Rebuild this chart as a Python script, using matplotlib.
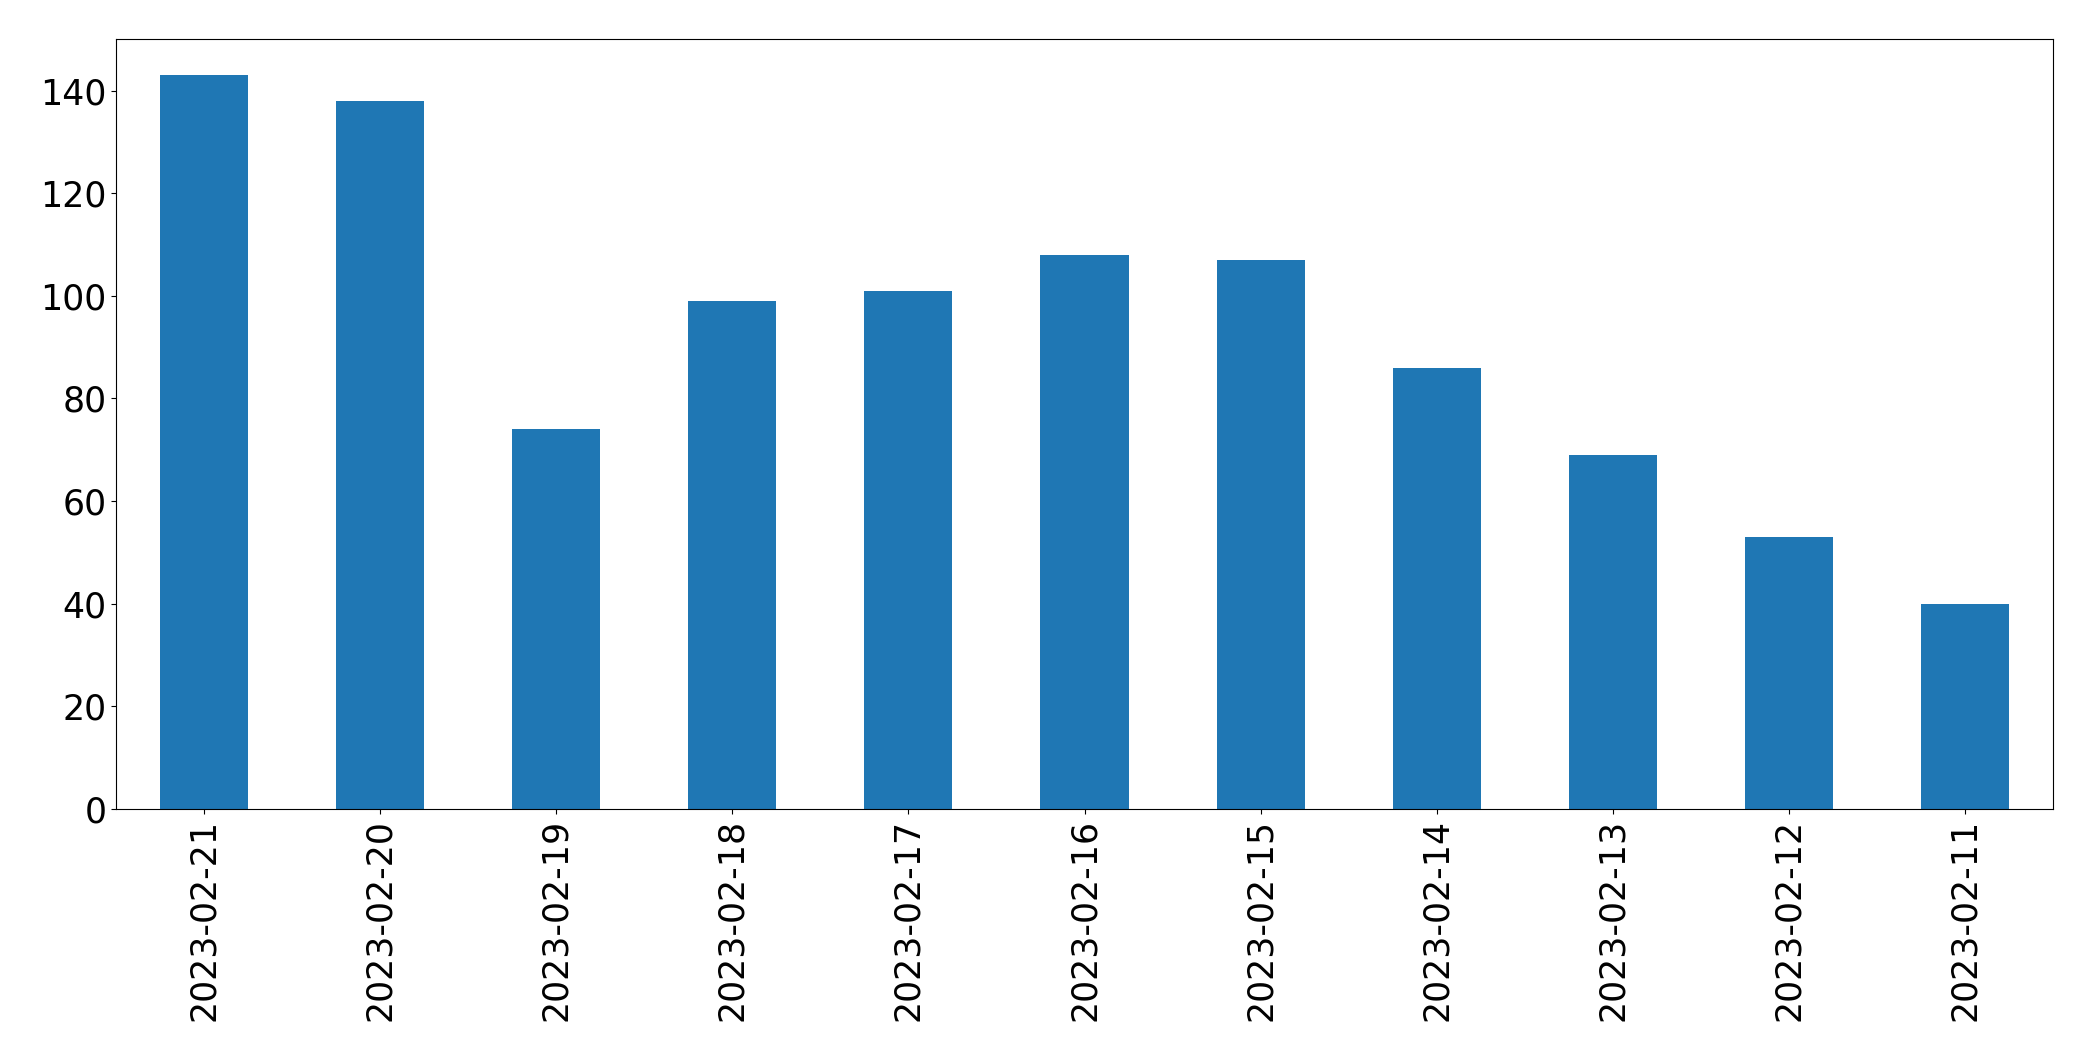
import matplotlib
matplotlib.use("Agg")
import matplotlib.pyplot as plt

dates = ["2023-02-21", "2023-02-20", "2023-02-19", "2023-02-18", "2023-02-17",
         "2023-02-16", "2023-02-15", "2023-02-14", "2023-02-13", "2023-02-12",
         "2023-02-11"]
counts = [143, 138, 74, 99, 101, 108, 107, 86, 69, 53, 40]

fig = plt.figure(figsize=(20.93, 10.61), dpi=100)
ax = fig.add_axes([116/2093, 1 - 809/1061, (2053 - 116)/2093, (809 - 39.3)/1061])
x = list(range(len(dates)))
ax.bar(x, counts, width=0.5, color="#1f77b4")
ax.set_xlim(-0.5, len(dates) - 0.5)
ax.set_ylim(0, 150)
ax.set_xticks(x)
ax.set_xticklabels(dates, rotation=90)
ax.set_yticks(range(0, 141, 20))
ax.tick_params(labelsize=25)
fig.savefig("out.png", dpi=100)
